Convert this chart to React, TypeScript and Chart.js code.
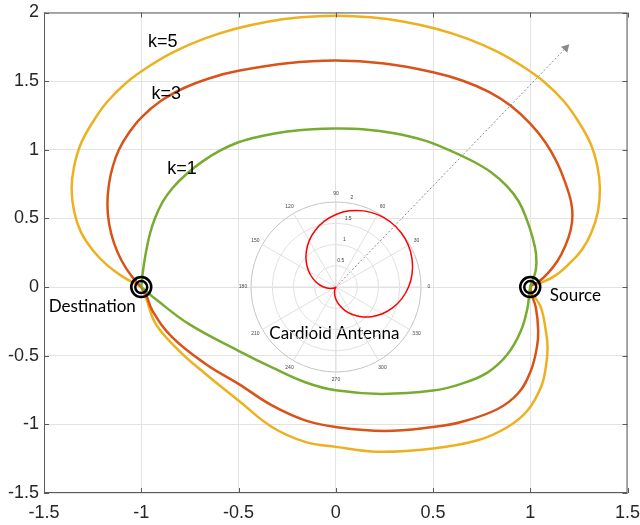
import React, { useEffect, useRef } from 'react';
import { Chart, registerables } from 'chart.js';

Chart.register(...registerables);

// ---- Locus curves, [x, y] pairs going clockwise from Destination ----
const k1Points: number[][] = [
  [-1.0, 0.0], [-0.99, 0.13], [-0.975, 0.26], [-0.955, 0.39], [-0.93, 0.5], [-0.89, 0.62], [-0.84, 0.72],
  [-0.77, 0.82], [-0.69, 0.91], [-0.6, 0.99], [-0.5, 1.055], [-0.38, 1.1], [-0.25, 1.133], [-0.12, 1.15],
  [0.0, 1.155], [0.15, 1.148], [0.3, 1.12], [0.45, 1.07], [0.58, 1.0], [0.7, 0.92], [0.8, 0.835],
  [0.88, 0.735], [0.94, 0.625], [0.98, 0.5], [1.01, 0.37], [1.03, 0.24], [1.028, 0.12], [1.0, 0.0],
  [0.986, -0.15], [0.952, -0.319], [0.884, -0.488], [0.782, -0.621], [0.645, -0.705], [0.5, -0.754],
  [0.235, -0.778], [0.0, -0.752], [-0.157, -0.693], [-0.328, -0.585], [-0.5, -0.464], [-0.754, -0.27],
  [-0.925, -0.089], [-1.0, 0.0],
];

const k3Points: number[][] = [
  [-1.0, 0.0], [-1.05, 0.08], [-1.1, 0.19], [-1.14, 0.32], [-1.165, 0.46], [-1.174, 0.6], [-1.166, 0.75],
  [-1.146, 0.88], [-1.115, 1.0], [-1.065, 1.12], [-1.0, 1.235], [-0.9, 1.355], [-0.78, 1.45], [-0.64, 1.525],
  [-0.5, 1.575], [-0.25, 1.63], [0.0, 1.65], [0.25, 1.628], [0.5, 1.565], [0.65, 1.505], [0.79, 1.42],
  [0.9, 1.32], [1.0, 1.19], [1.08, 1.05], [1.14, 0.9], [1.185, 0.74], [1.21, 0.62], [1.217, 0.52],
  [1.207, 0.41], [1.18, 0.3], [1.14, 0.19], [1.09, 0.1], [1.04, 0.035], [1.0, 0.0],
  [1.029, -0.15], [1.041, -0.319], [1.034, -0.44], [1.003, -0.609], [0.94, -0.77], [0.83, -0.89],
  [0.645, -0.983], [0.5, -1.019], [0.253, -1.048], [0.0, -1.019], [-0.157, -0.971], [-0.328, -0.862],
  [-0.5, -0.705], [-0.669, -0.56], [-0.84, -0.367], [-0.942, -0.174], [-0.976, -0.053], [-1.0, 0.0],
];

const k5Points: number[][] = [
  [-1.0, 0.0], [-1.1, 0.08], [-1.18, 0.165], [-1.25, 0.27], [-1.31, 0.4], [-1.345, 0.55], [-1.358, 0.72],
  [-1.345, 0.88], [-1.31, 1.045], [-1.25, 1.2], [-1.176, 1.348], [-1.075, 1.49], [-0.96, 1.608],
  [-0.83, 1.715], [-0.679, 1.808], [-0.52, 1.88], [-0.351, 1.933], [-0.18, 1.965], [0.0, 1.976],
  [0.18, 1.965], [0.351, 1.933], [0.52, 1.88], [0.679, 1.808], [0.83, 1.715], [0.96, 1.608], [1.075, 1.49],
  [1.176, 1.348], [1.25, 1.2], [1.31, 1.045], [1.345, 0.88], [1.358, 0.72], [1.348, 0.55], [1.315, 0.4],
  [1.265, 0.27], [1.2, 0.17], [1.13, 0.085], [1.055, 0.03], [1.0, 0.0],
  [1.055, -0.15], [1.08, -0.319], [1.089, -0.44], [1.08, -0.585], [1.055, -0.729], [0.986, -0.899],
  [0.884, -1.019], [0.73, -1.116], [0.5, -1.176], [0.218, -1.2], [0.0, -1.164], [-0.157, -1.128],
  [-0.328, -1.019], [-0.5, -0.826], [-0.669, -0.633], [-0.805, -0.464], [-0.925, -0.27], [-0.976, -0.077],
  [-1.0, 0.0],
];

// direction arrow and the two nodes
const arrowX = [0, 1.183];
const arrowY = [0, 1.742];
const nodeX = [-1, 1];
const nodeY = [0, 0];

// axis ticks
const xTickValues = [-1.5, -1, -0.5, 0, 0.5, 1, 1.5];
const xTickLabels = ['-1.5', '-1', '-0.5', '0', '0.5', '1', '1.5'];
const yTickValues = [-1.5, -1, -0.5, 0, 0.5, 1, 1.5, 2];
const yTickLabels = ['-1.5', '-1', '-0.5', '0', '0.5', '1', '1.5', '2'];

// cardioid antenna pattern (polar inset), radius per angle in degrees
const cardioidAngles = [0, 10, 20, 30, 40, 50, 60, 70, 80, 90, 100, 110, 120, 130, 140, 150, 160, 170, 180, 190, 200, 210, 220, 230, 240, 250, 260, 270, 280, 290, 300, 310, 320, 330, 340, 350];
const cardioidR = [1.707, 1.819, 1.906, 1.966, 1.996, 1.996, 1.966, 1.906, 1.819, 1.707, 1.574, 1.423, 1.259, 1.087, 0.913, 0.741, 0.577, 0.426, 0.293, 0.181, 0.094, 0.034, 0.004, 0.004, 0.034, 0.094, 0.181, 0.293, 0.426, 0.577, 0.741, 0.913, 1.087, 1.259, 1.423, 1.574];
const polarAngleTicks = [0, 30, 60, 90, 120, 150, 180, 210, 240, 270, 300, 330];
const polarAngleLabels = ['0', '30', '60', '90', '120', '150', '180', '210', '240', '270', '300', '330'];
const polarRTicks = [0.5, 1, 1.5, 2];
const polarRLabels = ['0.5', '1', '1.5', '2'];

// text annotations
const noteText = ['k=5', 'k=3', 'k=1', 'Destination', 'Source', 'Cardioid Antenna'];
const noteX = [-0.89, -0.872, -0.79, -1.252, 1.232, -0.007];
const noteY = [1.783, 1.406, 0.862, -0.138, -0.065, -0.341];
const noteFont = [
  '18px "Liberation Sans", Arial',
  '18px "Liberation Sans", Arial',
  '18px "Liberation Sans", Arial',
  '17px Lato, "Open Sans"',
  '17px Lato, "Open Sans"',
  '17px Lato, "Open Sans"',
];

const toXY = (p: number[][]) => p.map(([x, y]) => ({ x, y }));
const pts = (xs: number[], ys: number[]) => xs.map((x, i) => ({ x, y: ys[i] }));

const framePlugin = {
  id: 'frameTicks',
  afterDatasetsDraw(chart: any) {
    const { ctx, chartArea, scales } = chart;
    const { left, right, top, bottom } = chartArea;
    ctx.save();
    ctx.fillStyle = '#000';
    ctx.textAlign = 'center';
    ctx.textBaseline = 'middle';
    noteText.forEach((t, i) => {
      ctx.font = noteFont[i];
      ctx.fillText(t, scales.x.getPixelForValue(noteX[i]), scales.y.getPixelForValue(noteY[i]));
    });
    ctx.strokeStyle = '#5a5a5a';
    ctx.lineWidth = 1;
    ctx.strokeRect(left + 0.5, top + 0.5, right - left - 1, bottom - top - 1);
    const tl = 5;
    ctx.beginPath();
    xTickValues.forEach((v) => {
      const px = Math.round(scales.x.getPixelForValue(v)) + 0.5;
      ctx.moveTo(px, bottom);
      ctx.lineTo(px, bottom - tl);
      ctx.moveTo(px, top);
      ctx.lineTo(px, top + tl);
    });
    yTickValues.forEach((v) => {
      const py = Math.round(scales.y.getPixelForValue(v)) + 0.5;
      ctx.moveTo(left, py);
      ctx.lineTo(left + tl, py);
      ctx.moveTo(right, py);
      ctx.lineTo(right - tl, py);
    });
    ctx.stroke();
    ctx.restore();
  },
};

const polarLabelPlugin = {
  id: 'polarLabels',
  afterDraw(chart: any) {
    const { ctx } = chart;
    const s = chart.scales.r;
    const labels: string[] = chart.data.labels;
    ctx.save();
    ctx.fillStyle = '#444';
    ctx.font = '5px "Liberation Sans", Arial';
    ctx.textAlign = 'center';
    ctx.textBaseline = 'middle';
    polarAngleTicks.forEach((a, j) => {
      const i = labels.indexOf(String(a));
      if (i < 0) return;
      const p = s.getPointPosition(i, s.drawingArea + 8);
      ctx.fillText(polarAngleLabels[j], p.x, p.y);
    });
    const i80 = labels.indexOf('80');
    polarRTicks.forEach((v, j) => {
      const p = s.getPointPosition(i80, s.getDistanceFromCenterForValue(v) + 6);
      ctx.fillText(polarRLabels[j], p.x, p.y);
    });
    ctx.restore();
  },
};

export default function App() {
  const mainRef = useRef<HTMLCanvasElement>(null);
  const polarRef = useRef<HTMLCanvasElement>(null);

  useEffect(() => {
    if (!mainRef.current || !polarRef.current) return;
    const tickFont = { family: '"Liberation Sans", Arial, sans-serif', size: 18 };
    const curve = (points: number[][], color: string) => ({
      data: toXY(points),
      showLine: true,
      borderColor: color,
      borderWidth: 2.5,
      pointRadius: 0,
      tension: 0.4,
    });
    const main = new Chart(mainRef.current, {
      type: 'scatter',
      data: {
        datasets: [
          {
            data: pts(nodeX, nodeY),
            pointRadius: 10,
            pointBorderWidth: 2.5,
            pointBorderColor: '#000',
            pointBackgroundColor: 'rgba(0,0,0,0)',
            showLine: false,
          },
          {
            data: pts(nodeX, nodeY),
            pointRadius: 6,
            pointBorderWidth: 2.5,
            pointBorderColor: '#000',
            pointBackgroundColor: 'rgba(0,0,0,0)',
            showLine: false,
          },
          {
            data: pts(arrowX, arrowY),
            showLine: true,
            borderColor: '#8a8a8a',
            borderWidth: 1,
            borderDash: [2, 2],
            pointRadius: [0, 5],
            pointStyle: 'triangle',
            pointBackgroundColor: '#8a8a8a',
            pointBorderColor: '#8a8a8a',
            pointBorderWidth: 0,
            pointRotation: (ctx: any) => {
              const c = ctx.chart;
              const dx = c.scales.x.getPixelForValue(arrowX[1]) - c.scales.x.getPixelForValue(arrowX[0]);
              const dy = c.scales.y.getPixelForValue(arrowY[1]) - c.scales.y.getPixelForValue(arrowY[0]);
              return (Math.atan2(dx, -dy) * 180) / Math.PI;
            },
          },
          curve(k1Points, '#77AC30'),
          curve(k3Points, '#D95319'),
          curve(k5Points, '#EDB120'),
        ],
      },
      options: {
        responsive: false,
        animation: false,
        layout: { padding: { top: 10, right: 9, left: 0, bottom: 0 } },
        plugins: { legend: { display: false }, tooltip: { enabled: false } },
        scales: {
          x: {
            type: 'linear',
            min: -1.5,
            max: 1.5,
            afterBuildTicks: (s: any) => {
              s.ticks = xTickValues.map((v) => ({ value: v }));
            },
            afterFit: (s: any) => {
              s.height = 32;
              s.paddingLeft = 0;
              s.paddingRight = 0;
            },
            ticks: {
              callback: (_v: any, i: number) => xTickLabels[i],
              font: tickFont,
              color: '#262626',
              padding: 9,
              maxRotation: 0,
              autoSkip: false,
            },
            grid: { color: '#e3e3e3', drawTicks: false },
            border: { display: false },
          },
          y: {
            type: 'linear',
            min: -1.5,
            max: 2,
            afterBuildTicks: (s: any) => {
              s.ticks = yTickValues.map((v) => ({ value: v }));
            },
            afterFit: (s: any) => {
              s.width = 44;
              s.paddingTop = 0;
              s.paddingBottom = 0;
            },
            ticks: {
              callback: (_v: any, i: number) => yTickLabels[i],
              font: tickFont,
              color: '#262626',
              padding: 5,
              autoSkip: false,
            },
            grid: { color: '#e3e3e3', drawTicks: false },
            border: { display: false },
          },
        },
      },
      plugins: [framePlugin],
    } as any);

    // place the polar inset so its pole sits on the main chart's origin
    const pad = 25;
    const radius = 85;
    const cx = main.scales.x.getPixelForValue(0);
    const cy = main.scales.y.getPixelForValue(0);
    const pc = polarRef.current;
    pc.style.left = Math.round(cx - pad - radius) + 'px';
    pc.style.top = Math.round(cy - pad - radius) + 'px';

    const radarAngles = cardioidAngles.map((_, i) => (((90 - 10 * i) % 360) + 360) % 360);
    const radarR = radarAngles.map((a) => cardioidR[cardioidAngles.indexOf(a)]);

    const polar = new Chart(pc, {
      type: 'radar',
      data: {
        labels: radarAngles.map(String),
        datasets: [
          {
            data: radarR,
            borderColor: '#ff0000',
            borderWidth: 1.5,
            pointRadius: 0,
            fill: false,
            tension: 0.25,
          },
        ],
      },
      options: {
        responsive: false,
        animation: false,
        layout: { padding: pad },
        plugins: { legend: { display: false }, tooltip: { enabled: false } },
        scales: {
          r: {
            min: 0,
            max: 2,
            ticks: { display: false, stepSize: 0.5 },
            pointLabels: { display: false },
            grid: {
              circular: true,
              color: (c: any) => (c.index === 4 ? '#c4c4c4' : '#e0e0e0'),
              lineWidth: 1,
            },
            angleLines: {
              color: (c: any) => (radarAngles[c.index] % 30 === 0 ? '#e0e0e0' : 'rgba(0,0,0,0)'),
              lineWidth: 1,
            },
          },
        },
      },
      plugins: [polarLabelPlugin],
    } as any);

    return () => {
      polar.destroy();
      main.destroy();
    };
  }, []);

  return (
    <div style={{ position: 'fixed', left: 0, top: 0, width: 640, height: 525, background: '#fff' }}>
      <canvas ref={mainRef} width={640} height={525} style={{ display: 'block', position: 'absolute', left: 0, top: 0 }} />
      <canvas ref={polarRef} width={220} height={220} style={{ position: 'absolute', left: 0, top: 0 }} />
    </div>
  );
}
